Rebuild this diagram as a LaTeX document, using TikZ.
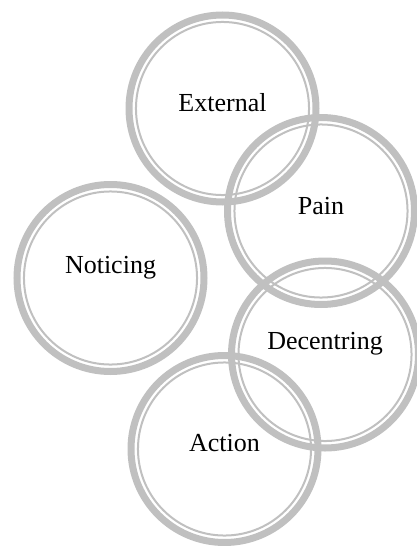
\documentclass[tikz,border=0pt]{standalone}
\usepackage{fontspec}
\setmainfont{Liberation Serif}
\definecolor{ringgray}{HTML}{C0C0C0}
\tikzset{
  ring/.style={circle, draw=ringgray, line width=5.25pt, minimum size=140.25pt, inner sep=0pt},
  innerring/.style={draw=ringgray, line width=1.5pt},
  ringtext/.style={font=\fontsize{19.5}{23}\selectfont, text=black, inner sep=0pt}
}
\begin{document}
\begin{tikzpicture}[x=0.75pt,y=-0.75pt]
\useasboundingbox (0,0) rectangle (417,546);
\node[ring] (ext) at (222.5,108.5) {};
\node[ring] (pain) at (321,211) {};
\node[ring] (not) at (110.5,278) {};
\node[ring] (dec) at (325,354.5) {};
\node[ring] (act) at (224.5,449) {};
\foreach \n in {ext,pain,not,dec,act}
  \draw[innerring] (\n.center) circle (64.9pt);
\node[ringtext] (extt) at ([yshift=4.5pt]ext.center) {External};
\node[ringtext] (paint) at ([yshift=3.5pt]pain.center) {Pain};
\node[ringtext] (nott) at ([yshift=8pt]not.center) {Noticing};
\node[ringtext] (dect) at ([yshift=8pt]dec.center) {Decentring};
\node[ringtext] (actt) at ([yshift=4.5pt]act.center) {Action};
\end{tikzpicture}
\end{document}
